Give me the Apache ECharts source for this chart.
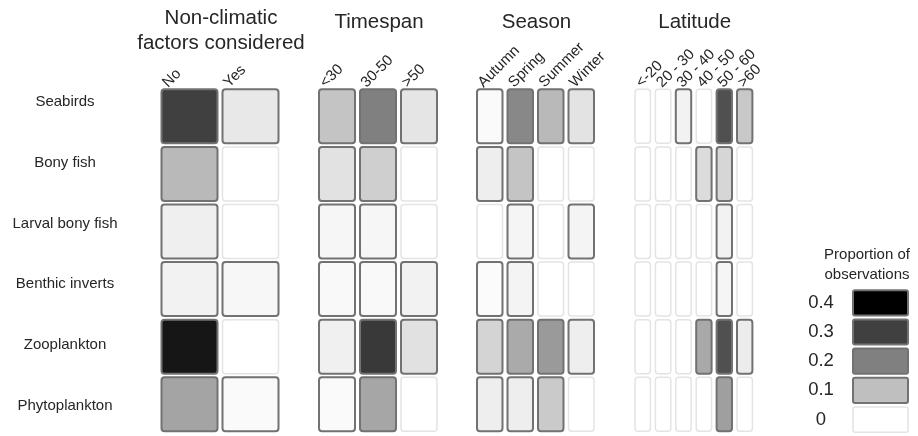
<!DOCTYPE html>
<html>
<head>
<meta charset="utf-8">
<script src="https://cdn.jsdelivr.net/npm/echarts@6/dist/echarts.min.js"></script>
<style>
  html, body { margin: 0; padding: 0; background: #ffffff; }
  #chart { width: 918px; height: 436px; }
</style>
</head>
<body>
<div id="chart"></div>
<script>
// Study groups (rows, top to bottom)
const groups = ['Seabirds', 'Bony fish', 'Larval bony fish', 'Benthic inverts', 'Zooplankton', 'Phytoplankton'];

// Panel titles
const panelTitles = ['Non-climatic\nfactors considered', 'Timespan', 'Season', 'Latitude'];

// Column categories for each panel
const factorCols = ['No', 'Yes'];
const timespanCols = ['<30', '30-50', '>50'];
const seasonCols = ['Autumn', 'Spring', 'Summer', 'Winter'];
const latitudeCols = ['<-20', '20 - 30', '30 - 40', '40 - 50', '50 - 60', '>60'];

// Proportion of observations, one row per group
const factorVals = [
  [0.300, 0.036],
  [0.110, 0],
  [0.025, 0],
  [0.020, 0.012],
  [0.365, 0],
  [0.143, 0.008]
];
const timespanVals = [
  [0.093, 0.200, 0.041],
  [0.045, 0.075, 0],
  [0.014, 0.014, 0],
  [0.010, 0.010, 0.020],
  [0.024, 0.310, 0.047],
  [0.008, 0.140, 0]
];
const seasonVals = [
  [0.008, 0.186, 0.110, 0.044],
  [0.027, 0.093, 0, 0],
  [0, 0.015, 0, 0.018],
  [0.006, 0.018, 0, 0],
  [0.067, 0.134, 0.158, 0.027],
  [0.027, 0.027, 0.083, 0]
];
const latitudeVals = [
  [0, 0, 0.020, 0, 0.274, 0.086],
  [0, 0, 0, 0.055, 0.065, 0],
  [0, 0, 0, 0, 0.020, 0],
  [0, 0, 0, 0, 0.015, 0],
  [0, 0, 0, 0.135, 0.274, 0.030],
  [0, 0, 0, 0, 0.150, 0]
];

// Colour key
const legendTicks = ['0.4', '0.3', '0.2', '0.1', '0'];
const legendTitle = 'Proportion of\nobservations';

// ---------------------------------------------------------------
const FONT = "'Liberation Sans', Arial, sans-serif";
const TEXT = '#262626';
const MAXV = 0.4;

function grayOf(v) {
  const g = Math.round(255 * (1 - Math.min(v, MAXV) / MAXV));
  return 'rgb(' + g + ',' + g + ',' + g + ')';
}

const panels = [
  { cols: factorCols, vals: factorVals, left: 159, width: 122 },
  { cols: timespanCols, vals: timespanVals, left: 316.5, width: 123 },
  { cols: seasonCols, vals: seasonVals, left: 474.5, width: 122 },
  { cols: latitudeCols, vals: latitudeVals, left: 632.5, width: 122.4 }
];
const GRID_TOP = 87.5, GRID_H = 345.6;
const GAP_X = 5, GAP_Y = 3.6;

const grid = [], xAxis = [], yAxis = [], series = [], graphic = [];

function cellRenderer(params, api) {
  const v = api.value(2);
  const c = api.coord([api.value(0), api.value(1)]);
  const s = api.size([1, 1]);
  const w = s[0] - GAP_X, h = s[1] - GAP_Y;
  const on = v > 0;
  return {
    type: 'rect',
    shape: { x: c[0] - w / 2, y: c[1] - h / 2, width: w, height: h, r: 3 },
    style: {
      fill: grayOf(v),
      stroke: on ? '#727272' : '#e4e4e4',
      lineWidth: on ? 2 : 1.5
    }
  };
}

panels.forEach(function (p, k) {
  grid.push({ left: p.left, top: GRID_TOP, width: p.width, height: GRID_H });
  xAxis.push({ type: 'category', gridIndex: k, data: p.cols, show: false });
  yAxis.push({ type: 'category', gridIndex: k, data: groups, inverse: true, show: false });

  const data = [];
  p.vals.forEach(function (row, r) {
    row.forEach(function (v, c) { data.push([c, r, v]); });
  });
  series.push({
    type: 'custom', xAxisIndex: k, yAxisIndex: k,
    renderItem: cellRenderer, data: data, silent: true
  });

  // Column names, slanted above the first row of cells
  series.push({
    type: 'custom', xAxisIndex: k, yAxisIndex: k, silent: true,
    data: p.cols.map(function (name, i) { return [i, 0]; }),
    renderItem: function (params, api) {
      const i = api.value(0);
      const c = api.coord([i, 0]);
      const s = api.size([1, 1]);
      return {
        type: 'text',
        x: c[0] - (s[0] - GAP_X) / 2 + 9,
        y: c[1] - (s[1] - GAP_Y) / 2 + 1,
        rotation: Math.PI / 4,
        style: {
          text: p.cols[i], font: '15px ' + FONT, fill: TEXT,
          align: 'left', verticalAlign: 'bottom'
        }
      };
    }
  });

  // Panel heading
  graphic.push({
    type: 'text',
    x: p.left + p.width / 2 + 1,
    y: k === 0 ? 31 : 22.5,
    style: {
      text: panelTitles[k], font: '20.5px ' + FONT, fill: TEXT,
      align: 'center', verticalAlign: 'middle', lineHeight: 25
    }
  });
});

// Group names on their own axis
grid.push({ left: 130, top: 72, width: 1, height: 372 });
xAxis.push({ type: 'category', gridIndex: 4, data: [''], show: false });
yAxis.push({
  type: 'category', gridIndex: 4, data: groups, inverse: true,
  axisLine: { show: false }, axisTick: { show: false }, splitLine: { show: false },
  axisLabel: { margin: 65, align: 'center', fontSize: 15, fontFamily: FONT, color: TEXT }
});

// Colour key
grid.push({ left: 853, top: 288.2, width: 55, height: 146 });
xAxis.push({ type: 'category', gridIndex: 5, data: [''], show: false });
yAxis.push({
  type: 'category', gridIndex: 5, data: legendTicks, inverse: true,
  axisLine: { show: false }, axisTick: { show: false }, splitLine: { show: false },
  axisLabel: { margin: 32, align: 'center', fontSize: 18.5, fontFamily: FONT, color: TEXT }
});
series.push({
  type: 'custom', xAxisIndex: 5, yAxisIndex: 5, silent: true,
  data: legendTicks.map(function (t, i) { return [0, i, parseFloat(t)]; }),
  renderItem: function (params, api) {
    const v = api.value(2);
    const c = api.coord([0, api.value(1)]);
    const s = api.size([1, 1]);
    const w = s[0], h = s[1] - 4;
    const on = v > 0;
    return {
      type: 'rect',
      shape: { x: c[0] - w / 2, y: c[1] - h / 2, width: w, height: h, r: 2 },
      style: { fill: grayOf(v), stroke: on ? '#727272' : '#e4e4e4', lineWidth: on ? 2 : 1.5 }
    };
  }
});
graphic.push({
  type: 'text', x: 867, y: 265,
  style: {
    text: legendTitle, font: '15px ' + FONT, fill: TEXT,
    align: 'center', verticalAlign: 'middle', lineHeight: 20
  }
});

const chart = echarts.init(document.getElementById('chart'), null, { renderer: 'canvas' });
chart.setOption({
  animation: false,
  backgroundColor: '#ffffff',
  grid: grid, xAxis: xAxis, yAxis: yAxis, series: series, graphic: graphic
});
</script>
</body>
</html>
